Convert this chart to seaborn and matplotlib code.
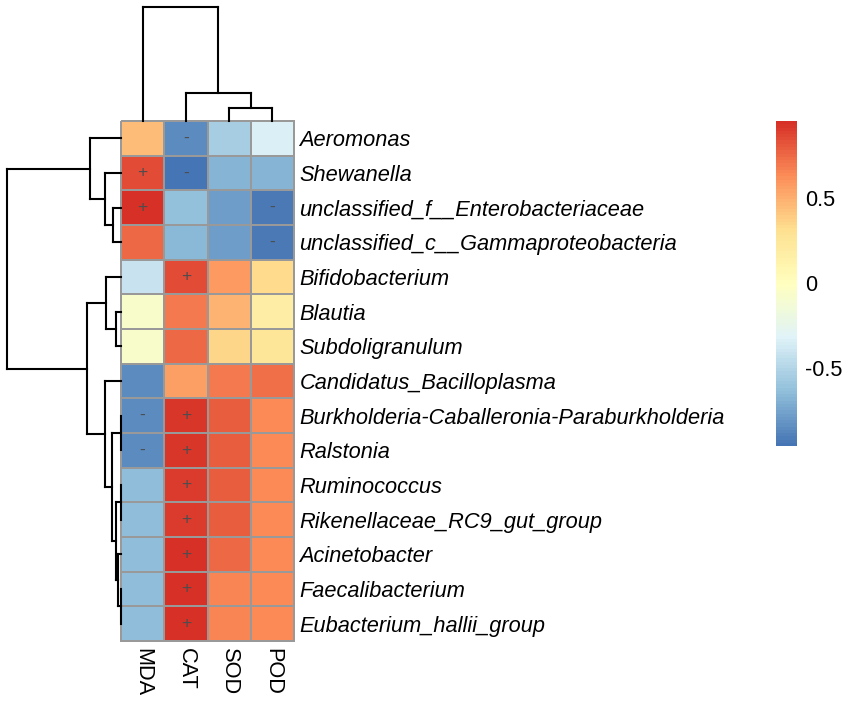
import numpy as np
import pandas as pd
import matplotlib
matplotlib.use('Agg')
import matplotlib.pyplot as plt
import seaborn as sns
from matplotlib.colors import LinearSegmentedColormap

genera = ['Aeromonas', 'Shewanella', 'unclassified_f__Enterobacteriaceae',
          'unclassified_c__Gammaproteobacteria', 'Bifidobacterium', 'Blautia',
          'Subdoligranulum', 'Candidatus_Bacilloplasma',
          'Burkholderia-Caballeronia-Paraburkholderia', 'Ralstonia', 'Ruminococcus',
          'Rikenellaceae_RC9_gut_group', 'Acinetobacter', 'Faecalibacterium',
          'Eubacterium_hallii_group']
enzymes = ['MDA', 'CAT', 'SOD', 'POD']

# correlation values, one list per column (rows in the order shown)
mda = [0.45, 0.85, 0.95, 0.75, -0.42, -0.08, -0.08, -0.85, -0.85, -0.85, -0.65, -0.65, -0.65, -0.65, -0.65]
cat = [-0.85, -0.96, -0.63, -0.67, 0.85, 0.70, 0.75, 0.55, 0.92, 0.92, 0.91, 0.91, 0.95, 0.95, 0.95]
sod = [-0.55, -0.68, -0.78, -0.78, 0.58, 0.48, 0.35, 0.69, 0.79, 0.79, 0.79, 0.79, 0.74, 0.65, 0.65]
pod = [-0.33, -0.68, -0.94, -0.94, 0.33, 0.17, 0.25, 0.73, 0.64, 0.64, 0.64, 0.64, 0.64, 0.64, 0.64]

# significance marks
sig_mda = ['', '+', '+', '', '', '', '', '', '-', '-', '', '', '', '', '']
sig_cat = ['-', '-', '', '', '+', '', '', '', '+', '+', '+', '+', '+', '+', '+']
sig_sod = [''] * 15
sig_pod = ['', '', '-', '-', '', '', '', '', '', '', '', '', '', '', '']

# dendrogram merges (child a, child b, height); new nodes numbered after leaves
row_merges = [(2, 3, 7.7), (1, 15, 16), (0, 16, 31), (5, 6, 5.3), (4, 18, 15),
              (8, 9, 0), (10, 11, 0), (13, 14, 0), (12, 22, 2.7), (21, 23, 5),
              (20, 24, 9.3), (7, 25, 15.7), (19, 26, 33.7), (17, 27, 114)]
col_merges = [(2, 3, 13.3), (1, 4, 28.3), (0, 5, 114)]

df = pd.DataFrame({'MDA': mda, 'CAT': cat, 'SOD': sod, 'POD': pod}, index=genera)
annot = np.array([sig_mda, sig_cat, sig_sod, sig_pod]).T

sns.set_style('white')
plt.rcParams['font.family'] = ['Liberation Sans', 'DejaVu Sans']
plt.rcParams['text.color'] = 'black'
plt.rcParams['xtick.color'] = 'black'
plt.rcParams['ytick.color'] = 'black'

pal = ['#4575B4', '#91BFDB', '#E0F3F8', '#FFFFBF', '#FEE090', '#FC8D59', '#D73027']
cmap = LinearSegmentedColormap.from_list('rdylbu', pal, N=100)


def draw_tree(ax, merges, n, side):
    pos = {i: i + 0.5 for i in range(n)}
    hgt = {i: 0.0 for i in range(n)}
    for k, (a, b, h) in enumerate(merges):
        segs = [([hgt[a], h], [pos[a], pos[a]]),
                ([hgt[b], h], [pos[b], pos[b]]),
                ([h, h], [pos[a], pos[b]])]
        for hs, ps in segs:
            if side == 'left':
                ax.plot(hs, ps, color='black', lw=1.5, solid_capstyle='projecting', clip_on=False)
            else:
                ax.plot(ps, hs, color='black', lw=1.5, solid_capstyle='projecting', clip_on=False)
        pos[n + k] = (pos[a] + pos[b]) / 2
        hgt[n + k] = h


fig = plt.figure(figsize=(8.5, 7.03), dpi=100)
W, H = 850, 703


def frac(x0, y0, x1, y1):
    return [x0 / W, 1 - y1 / H, (x1 - x0) / W, (y1 - y0) / H]


ax = fig.add_axes(frac(121, 121, 294, 641))
ax_row = fig.add_axes(frac(7, 121, 121, 641))
ax_col = fig.add_axes(frac(121, 7, 294, 121))
cax = fig.add_axes(frac(776, 121, 797, 446))

sns.heatmap(df, ax=ax, cmap=cmap, vmin=df.values.min(), vmax=df.values.max(),
            linewidths=1.2, linecolor='#999999', annot=annot, fmt='',
            annot_kws={'color': '#4d4d4d', 'fontsize': 12.5},
            cbar_ax=cax)
mesh = ax.collections[0]
mesh.set_clip_on(False)
ax.yaxis.tick_right()
ax.set_yticks(np.arange(len(genera)) + 0.5)
ax.set_yticklabels(genera, rotation=0, fontstyle='italic', fontsize=15.7)
ax.set_xticks(np.arange(len(enzymes)) + 0.5)
ax.set_xticklabels(enzymes, rotation=270, fontsize=15.7)
ax.tick_params(axis='both', length=0)
ax.tick_params(axis='y', pad=4)
ax.tick_params(axis='x', pad=5)
ax.set_xlabel('')
ax.set_ylabel('')

draw_tree(ax_row, row_merges, len(genera), 'left')
ax_row.set_xlim(114, 0)
ax_row.set_ylim(len(genera), 0)
ax_row.axis('off')

draw_tree(ax_col, col_merges, len(enzymes), 'top')
ax_col.set_xlim(0, len(enzymes))
ax_col.set_ylim(0, 114)
ax_col.axis('off')

cbar = mesh.colorbar
cbar.outline.set_visible(False)
cbar.set_ticks([-0.5, 0, 0.5])
cbar.set_ticklabels(['-0.5', '0', '0.5'], fontsize=15.7)
cax.tick_params(length=0, pad=6)

fig.savefig('out.png', dpi=100)
